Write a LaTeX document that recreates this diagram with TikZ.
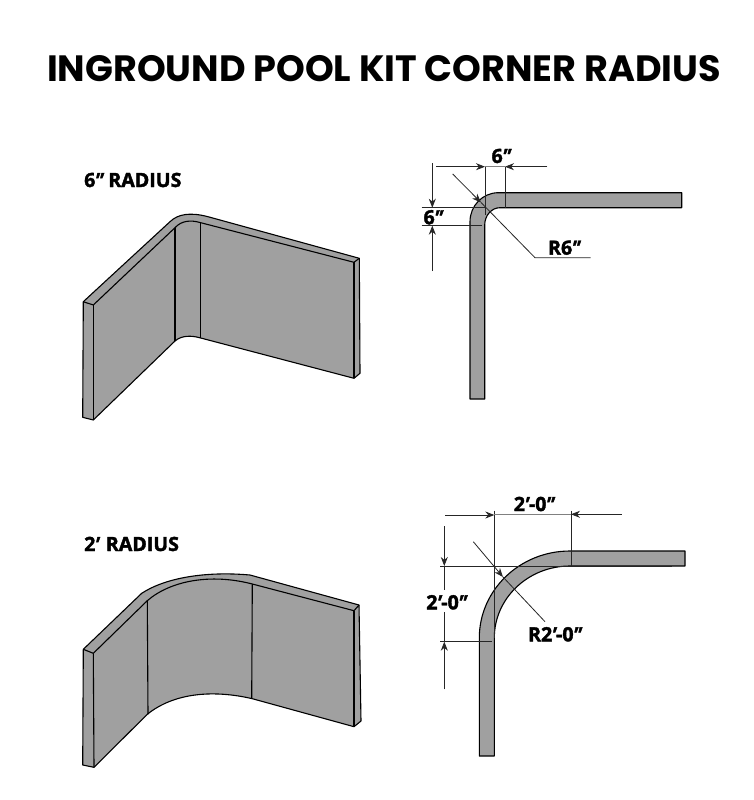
\documentclass[tikz,border=0pt]{standalone}
\usepackage{fontspec}
\setmainfont{Open Sans}[BoldFeatures={FakeBold=1.9}]
\newfontfamily\titlefont{Poppins}
\newfontfamily\primefont{Open Sans}[BoldFeatures={FakeBold=1.9,FakeSlant=0.3}]
\newcommand{\dqm}{\kern-.17em{\primefont ″}\kern.02em}
\newcommand{\sqm}{\kern-.17em{\primefont ′}\kern.1em}
\usetikzlibrary{arrows.meta}
\tikzset{
  panel/.style={fill=panelgrey,draw=black,line width=1.1pt,line join=round},
  edge/.style={draw=black,line width=1.1pt,line join=round},
  dimline/.style={draw=black!85,line width=.8pt},
  dimarrow/.style={draw=black!85,line width=.8pt,-{Stealth[length=9pt,width=7pt]}},
  dimlabel/.style={font=\bfseries\fontsize{19.6}{20}\selectfont,inner sep=0pt},
  caption/.style={font=\bfseries\fontsize{19.6}{20}\selectfont,inner sep=0pt,anchor=west},
}
\definecolor{panelgrey}{HTML}{A0A0A0}
\begin{document}
\begin{tikzpicture}[x=1pt,y=-1pt]
\useasboundingbox (0,0) rectangle (753,800);
\fill[white] (0,0) rectangle (753,800);
\node[inner sep=0pt,font=\titlefont\bfseries\fontsize{36.6}{37}\selectfont] (title) at (384,69) {INGROUND POOL KIT CORNER RADIUS};
\node[caption] (cap1) at (84,180) {6\dqm\ \kern.08em RADIUS};
\node[caption] (cap2) at (84,544) {2\sqm\ \kern.08em RADIUS};

% 6 inch wall, perspective
\path[panel] (83.3,301.7) -- (170,221.7) .. controls (178,214) and (190,212) .. (208,216.7)
  -- (359.3,258.3) -- (360,373.3) -- (354,378.3) -- (200.7,338)
  .. controls (192,335.5) and (182,335) .. (175,341) -- (93.3,420) -- (82.7,417.3) -- cycle;
\draw[edge] (83.3,301.7) -- (93.3,305) -- (175,227.7) .. controls (181,221) and (190,219.5) .. (200.7,222.7) -- (354,262.3) -- (359.3,258.3);
\draw[edge] (93.3,305) -- (93.3,420);
\draw[edge] (175,227.7) -- (175,341);
\draw[edge] (200.7,222.7) -- (200.7,338);
\draw[edge] (354,262.3) -- (354,378.3);

% 2 foot wall, perspective
\path[panel] (83.3,649.3) -- (141.7,593.3) .. controls (165,578) and (205,571) .. (250,575)
  -- (359,605) -- (361,721) -- (354,726.7) -- (252.3,698.7)
  .. controls (215,690) and (175,692) .. (147.3,714.3) -- (94,767.3) -- (82.7,765) -- cycle;
\draw[edge] (83.3,649.3) -- (93.3,653.3) -- (147.3,600.7) .. controls (170,581) and (210,573) .. (252.3,584) -- (354,610.7) -- (359,605);
\draw[edge] (93.3,653.3) -- (94,767.3);
\draw[edge] (147.3,600.7) -- (148,714.3);
\draw[edge] (252.3,584) -- (251.7,698.7);
\draw[edge] (354,610.7) -- (354,726.7);

% 6 inch plan
\path[panel] (470,399) -- (470,221.7) arc[start angle=180,end angle=270,x radius=28.3,y radius=29] -- (681.7,192.7) -- (681.7,207.7) -- (500,207.7)
  arc[start angle=270,end angle=180,x radius=15.3,y radius=17.3] -- (484.7,399) -- cycle;
\coordinate (a1) at (485,166.7); \coordinate (a2) at (505,166.7);
\draw[dimline] (a1) -- (485,215);
\draw[dimline] (a2) -- (505,207.7);
\draw[dimline,black!50] (a1) -- (a2);
\coordinate (a3) at (436,166.7); \coordinate (a4) at (547.3,166.7);
\draw[dimarrow] (a3) -- (a1);
\draw[dimarrow] (a4) -- (a2);
\coordinate (b1) at (432.3,163.3); \coordinate (b2) at (432.3,207.7);
\coordinate (b3) at (432.3,271); \coordinate (b4) at (432.3,225.7);
\draw[dimarrow] (b1) -- (b2);
\draw[dimarrow] (b3) -- (b4);
\draw[dimline] (421.7,207.7) -- (485,207.7);
\draw[dimline] (421.7,225.7) -- (481.7,225.7);
\coordinate (r1) at (452.7,174); \coordinate (r2) at (481,202.5); \coordinate (r3) at (535,257.7); \coordinate (r4) at (590.7,257.7);
\draw[dimarrow] (r1) -- (r2);
\draw[dimline] (r2) -- (r3) -- (r4);
\node[dimlabel] (l1) at (500.3,156) {6\dqm};
\node[dimlabel] (l2) at (432.3,217.3) {6\dqm};
\node[dimlabel] (l3) at (563.3,247.7) {R6\dqm};

% 2 foot plan
\path[panel] (479.3,756) -- (494.3,756) -- (494.3,638) arc[start angle=180,end angle=270,x radius=75.7,y radius=72] -- (685,566) -- (685,551) -- (570,551)
  arc[start angle=270,end angle=180,x radius=90.7,y radius=87] -- cycle;
\coordinate (c1) at (494.3,510.7); \coordinate (c2) at (571,510.7);
\draw[dimline] (c1) -- (494.3,638);
\draw[dimline] (c2) -- (571,566);
\draw[dimline,black!50] (494.3,514.5) -- (571,514.5);
\coordinate (c3) at (445,515); \coordinate (c4) at (621.7,514.3);
\draw[dimarrow] (c3) -- (494.3,515);
\draw[dimarrow] (c4) -- (571,514.3);
\coordinate (d1) at (444.3,526); \coordinate (d2) at (444.3,566);
\coordinate (d3) at (444.3,689.3); \coordinate (d4) at (444.3,641.7);
\draw[dimarrow] (d1) -- (d2);
\draw[dimarrow] (d3) -- (d4);
\draw[dimline] (444.3,566) -- (444.3,590);
\draw[dimline] (444.3,612) -- (444.3,641.7);
\draw[dimline] (440,566) -- (672,566);
\draw[dimline] (440,641.7) -- (491.7,641.7);
\coordinate (s1) at (473.3,541.7); \coordinate (s2) at (503,577); \coordinate (s3) at (545,621.7);
\draw[dimarrow] (s1) -- (s2);
\draw[dimline] (s2) -- (s3);
\node[dimlabel] (m1) at (533.3,504) {2\sqm-0\dqm};
\node[dimlabel] (m2) at (445.7,602.3) {2\sqm-0\dqm};
\node[dimlabel] (m3) at (554,634.3) {R2\sqm-0\dqm};
\end{tikzpicture}
\end{document}
